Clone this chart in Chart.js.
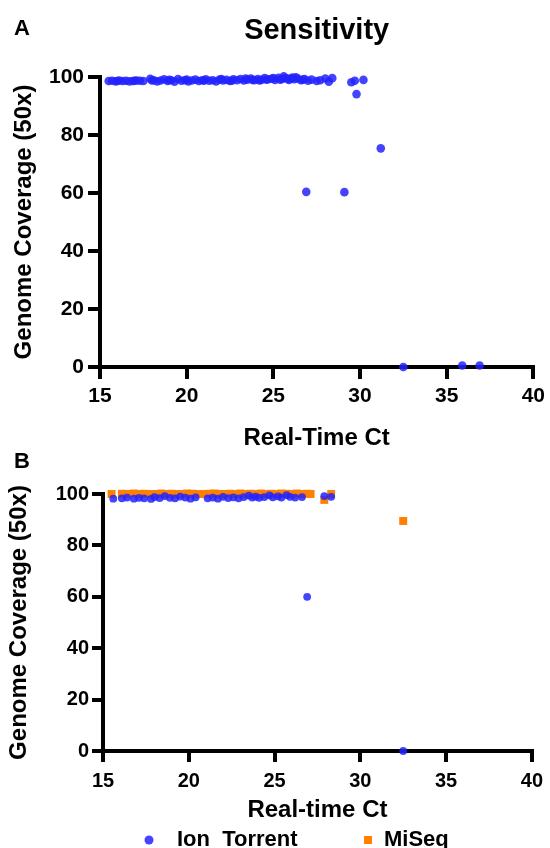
<!DOCTYPE html>
<html>
<head>
<meta charset="utf-8">
<title>Sensitivity</title>
<script src="https://cdn.jsdelivr.net/npm/chart.js@4.4.1/dist/chart.umd.min.js"></script>
<style>
  html, body { margin:0; padding:0; background:#fff; overflow:hidden; }
  body { width:550px; height:848px; position:relative; }
  .panel { position:absolute; left:0; width:550px; }
  #panelA { top:0; height:460px; }
  #panelB { top:450px; height:420px; }
</style>
</head>
<body>
<div class="panel" id="panelA"><canvas id="cvA"></canvas></div>
<div class="panel" id="panelB"><canvas id="cvB"></canvas></div>
<script>
// ==== データ ====
const FONT = '"Liberation Sans", Arial, Helvetica, sans-serif';
const X_TICKS = [15, 20, 25, 30, 35, 40];
const Y_TICKS = [0, 20, 40, 60, 80, 100];
const SERIES = ['Ion  Torrent', 'MiSeq'];

// A: Ion Torrent (Ct / coverage)
const ionA_ct  = [15.5,15.7,15.9,16.0,16.1,16.3,16.5,16.7,16.9,17.0,17.1,17.3,17.5,17.9,18.0,18.1,18.3,18.5,18.7,18.9,
                  19.0,19.1,19.3,19.5,19.7,19.9,20.0,20.1,20.3,20.5,20.7,20.9,21.0,21.1,21.3,21.5,21.7,21.9,22.0,22.1,
                  22.3,22.5,22.6,22.7,22.9,23.1,23.3,23.4,23.5,23.7,23.8,23.9,24.1,24.2,24.3,24.5,24.6,24.7,24.9,25.0,
                  25.1,25.3,25.4,25.5,25.6,25.7,25.8,25.9,26.0,26.1,26.2,26.3,26.4,26.6,26.7,26.8,27.0,27.2,27.5,27.7,
                  28.0,28.2,28.4,
                  26.9,29.1,29.5,29.7,30.2,29.8,31.2,32.5,35.9,36.9];
const ionA_cov = [98.6,98.7,98.5,98.6,98.8,98.6,98.7,98.5,98.6,98.7,98.8,98.7,98.6,99.4,98.8,98.9,98.5,98.8,99.2,98.6,
                  99.0,98.9,98.4,99.3,98.7,98.9,99.1,98.5,98.8,99.1,98.6,98.9,98.7,99.2,98.7,98.9,98.5,99.1,99.3,98.8,
                  99.0,98.6,98.7,99.2,98.9,99.3,98.8,99.5,99.1,99.5,99.0,98.9,99.3,98.8,99.0,99.6,99.1,99.2,99.4,99.6,
                  99.0,99.7,99.1,99.3,100.2,99.6,99.5,99.0,99.4,99.8,99.2,99.9,99.5,98.9,99.1,99.3,98.7,99.1,98.6,98.9,
                  99.5,98.4,99.6,
                  60.4,60.3,98.2,98.7,99.0,94.1,75.4,0.0,0.5,0.5];

// B: Ion Torrent
const ionB_ct  = [15.6,16.1,16.4,16.8,17.1,17.4,17.8,18.0,18.3,18.6,18.9,19.2,19.5,19.8,20.1,20.4,21.1,21.4,21.7,22.0,
                  22.3,22.6,22.9,23.2,23.5,23.7,23.9,24.1,24.4,24.7,24.9,25.2,25.4,25.7,25.9,26.2,26.6,27.9,28.3,
                  26.9,32.5];
const ionB_cov = [98.2,98.3,98.6,98.2,98.5,98.3,98.1,98.8,98.4,99.2,98.5,98.3,99.0,98.6,98.2,98.7,98.3,98.6,98.2,98.9,
                  98.4,98.7,98.3,98.8,99.4,98.6,99.0,98.5,98.8,99.5,98.7,99.1,98.6,99.6,98.9,98.6,98.8,99.2,98.9,
                  60.0,0.0];

// B: MiSeq
const miB_ct  = [15.5,16.1,16.4,16.8,17.1,17.4,17.8,18.1,18.4,18.7,19.0,19.3,19.6,19.9,20.2,20.5,20.9,21.2,21.5,21.8,
                 22.1,22.4,22.7,23.0,23.3,23.6,23.9,24.2,24.5,24.8,25.1,25.4,25.7,26.0,26.3,26.6,26.9,27.1,
                 27.9,28.3,32.5];
const miB_cov = [100.0,100.1,100.0,100.2,100.0,100.1,100.0,100.0,100.2,100.0,100.1,100.0,100.0,100.2,100.1,100.0,100.0,100.1,100.2,100.0,
                 100.0,100.1,100.0,100.2,100.0,100.1,100.0,100.2,100.0,100.1,100.0,100.2,100.1,100.0,100.2,100.0,100.1,100.0,
                 97.7,100.0,89.5];

const BLUE = 'rgba(35,35,255,0.85)';
const ORANGE = '#ff7f00';

const pts = (xs, ys) => xs.map((x, i) => ({ x, y: ys[i] }));

/* ===== テキスト（タイトル・パネル記号・凡例） ===== */
const panelText = {
  id: 'panelText',
  afterDraw(c, args, opts) {
    const ctx = c.ctx;
    const a = c.chartArea;
    ctx.save();
    ctx.fillStyle = '#000';
    ctx.textBaseline = 'middle';
    (opts.items || []).forEach(t => {
      ctx.font = `bold ${t.size}px ${FONT}`;
      ctx.textAlign = t.align || 'left';
      const x = t.x === 'center' ? (a.left + a.right) / 2 : t.x;
      ctx.fillText(t.text, x, t.y);
    });
    // 凡例
    (opts.legend || []).forEach(l => {
      const ds = c.data.datasets[l.ds];
      ctx.fillStyle = ds.backgroundColor;
      if (ds.pointStyle === 'rect') {
        ctx.fillRect(l.mx - 4, l.y - 4, 8, 8);
      } else {
        ctx.beginPath(); ctx.arc(l.mx, l.y, 4.5, 0, Math.PI * 2); ctx.fill();
      }
      ctx.fillStyle = '#000';
      ctx.font = `bold 22px ${FONT}`;
      ctx.textAlign = 'left';
      ctx.fillText(ds.label, l.tx, l.y);
    });
    ctx.restore();
  }
};

function axes(o) {
  const tickFont = { family: FONT, size: o.tick, weight: 'bold' };
  const titleFont = { family: FONT, size: 24, weight: 'bold' };
  return {
    x: {
      type: 'linear', min: 15, max: 40,
      afterFit(s) { s.height = o.xh; },
      afterBuildTicks(s) { s.ticks = X_TICKS.map(v => ({ value: v })); },
      ticks: { color: '#000', padding: o.xpad, font: tickFont, maxRotation: 0 },
      grid: { drawOnChartArea: false, drawTicks: true, tickLength: o.tl, lineWidth: 4, tickWidth: 4, tickColor: '#000' },
      border: { display: true, width: 4, color: '#000' },
      title: { display: true, text: o.xTitle, color: '#000', font: titleFont, padding: { top: 0, bottom: 0 } }
    },
    y: {
      min: 0, max: 100,
      afterFit(s) { s.width = o.yw; },
      afterBuildTicks(s) { s.ticks = Y_TICKS.map(v => ({ value: v })); },
      ticks: { color: '#000', padding: o.ypad, font: tickFont },
      grid: { drawOnChartArea: false, drawTicks: true, tickLength: o.tl, lineWidth: 4, tickWidth: 4, tickColor: '#000' },
      border: { display: true, width: 4, color: '#000' },
      title: { display: true, text: 'Genome Coverage (50x)', color: '#000', font: titleFont, padding: { top: o.ytp, bottom: 0 } }
    }
  };
}

/* ===== A ===== */
new Chart(document.getElementById('cvA'), {
  type: 'scatter',
  data: {
    datasets: [{
      label: SERIES[0], data: pts(ionA_ct, ionA_cov),
      backgroundColor: BLUE, borderWidth: 0, pointRadius: 4.3, pointStyle: 'circle', clip: false
    }]
  },
  options: {
    responsive: true, maintainAspectRatio: false, animation: false, devicePixelRatio: 1,
    layout: { padding: { left: 0, right: 13, top: 77, bottom: 7 } },
    scales: axes({ xh: 86, yw: 100, tl: 12, xpad: 5, ypad: 4, tick: 21, ytp: 10, xTitle: 'Real-Time Ct' }),
    plugins: {
      legend: { display: false }, tooltip: { enabled: false },
      panelText: { items: [
        { text: 'A', x: 14, y: 29, size: 22 },
        { text: 'Sensitivity', x: 'center', y: 31, size: 29, align: 'center' }
      ] }
    }
  },
  plugins: [panelText]
});

/* ===== B ===== */
new Chart(document.getElementById('cvB'), {
  type: 'scatter',
  data: {
    datasets: [
      { label: SERIES[0], data: pts(ionB_ct, ionB_cov),
        backgroundColor: BLUE, borderWidth: 0, pointRadius: 3.9, pointStyle: 'circle', clip: false },
      { label: SERIES[1], data: pts(miB_ct, miB_cov),
        backgroundColor: ORANGE, borderWidth: 0, pointRadius: 5.6, pointStyle: 'rect', clip: false }
    ]
  },
  options: {
    responsive: true, maintainAspectRatio: false, animation: false, devicePixelRatio: 1,
    layout: { padding: { left: 0, right: 10, top: 44, bottom: 45 } },
    scales: axes({ xh: 74, yw: 103, tl: 11, xpad: 7, ypad: 3, tick: 20, ytp: 5, xTitle: 'Real-time Ct' }),
    plugins: {
      legend: { display: false }, tooltip: { enabled: false },
      panelText: {
        items: [{ text: 'B', x: 14, y: 12, size: 22 }],
        legend: [ { ds: 0, mx: 149, tx: 177, y: 390 }, { ds: 1, mx: 368, tx: 384, y: 390 } ]
      }
    }
  },
  plugins: [panelText]
});
</script>
</body>
</html>
